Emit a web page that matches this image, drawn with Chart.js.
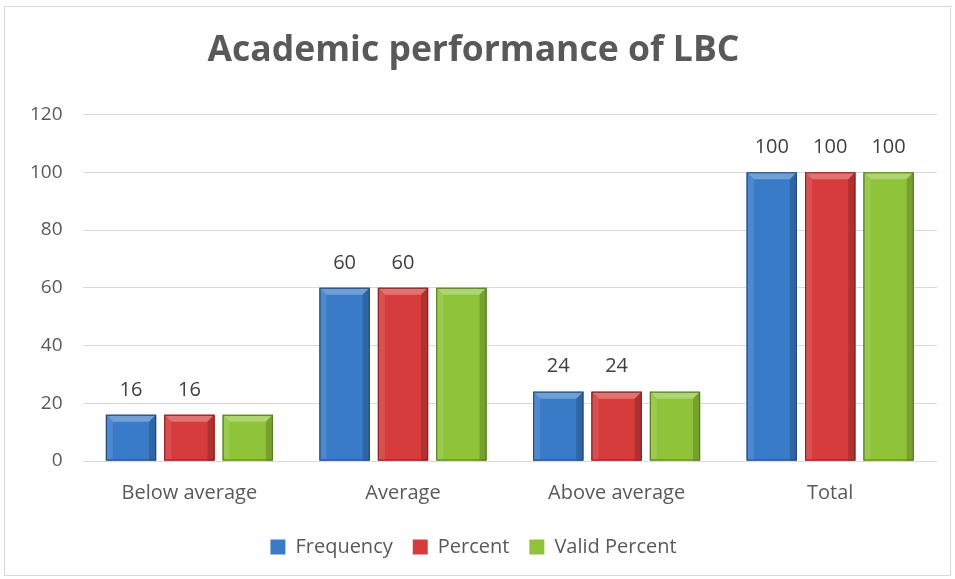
<!DOCTYPE html>
<html>
<head>
<meta charset="utf-8">
<script src="https://cdn.jsdelivr.net/npm/chart.js@4.4.0/dist/chart.umd.min.js"></script>
<style>
  body { margin: 0; background: #fff; }
  #frame { position: absolute; left: 4px; top: 6px; width: 947px; height: 570px; border: 1px solid #d9d9d9; box-sizing: border-box; }
  #wrap { position: absolute; left: 0; top: 0; width: 955px; height: 579px; }
</style>
</head>
<body>
<div id="frame"></div>
<div id="wrap"><canvas id="chartCanvas" width="955" height="579"></canvas></div>
<script>
const categories = ['Below average', 'Average', 'Above average', 'Total'];
const frequency = [16, 60, 24, 100];
const percent = [16, 60, 24, 100];
const validPercent = [16, 60, 24, 100];
// which bars carry a value label in the original
const frequencyLabels = ['16', '60', '24', '100'];
const percentLabels = ['16', '60', '24', '100'];
const validLabels = ['', '', '', '100'];
const yTicks = [0, 20, 40, 60, 80, 100, 120];

const FONT = "'Open Sans', 'Noto Sans', sans-serif";

function shade(hex, amt) {
  let r = parseInt(hex.slice(1, 3), 16), g = parseInt(hex.slice(3, 5), 16), b = parseInt(hex.slice(5, 7), 16);
  const f = c => Math.max(0, Math.min(255, Math.round(amt < 0 ? c * (1 + amt) : c + (255 - c) * amt)));
  return 'rgb(' + f(r) + ',' + f(g) + ',' + f(b) + ')';
}

// draws the bevelled look on top of the plain bars
const bevelPlugin = {
  id: 'bevel',
  afterDatasetsDraw(chart) {
    const ctx = chart.ctx;
    chart.data.datasets.forEach((ds, i) => {
      const meta = chart.getDatasetMeta(i);
      const base = ds.baseHex;
      meta.data.forEach(bar => {
        const { x, y, base: bottom, width } = bar.getProps(['x', 'y', 'base', 'width'], true);
        const l = x - width / 2, r = x + width / 2, b = 7;
        ctx.save();
        const g = ctx.createLinearGradient(l, 0, r, 0);
        g.addColorStop(0, shade(base, -0.25));
        g.addColorStop(0.12, base);
        g.addColorStop(0.88, base);
        g.addColorStop(1, shade(base, -0.3));
        ctx.fillStyle = g;
        ctx.fillRect(l, y, width, bottom - y);
        // top bevel
        ctx.fillStyle = shade(base, 0.28);
        ctx.beginPath();
        ctx.moveTo(l, y); ctx.lineTo(r, y); ctx.lineTo(r - b, y + b); ctx.lineTo(l + b, y + b); ctx.closePath();
        ctx.fill();
        // side bevels
        ctx.fillStyle = shade(base, 0.1);
        ctx.beginPath();
        ctx.moveTo(l, y); ctx.lineTo(l + b, y + b); ctx.lineTo(l + b, bottom); ctx.lineTo(l, bottom); ctx.closePath();
        ctx.fill();
        ctx.fillStyle = shade(base, -0.18);
        ctx.beginPath();
        ctx.moveTo(r, y); ctx.lineTo(r - b, y + b); ctx.lineTo(r - b, bottom); ctx.lineTo(r, bottom); ctx.closePath();
        ctx.fill();
        ctx.strokeStyle = shade(base, -0.4);
        ctx.lineWidth = 1;
        ctx.strokeRect(l + 0.5, y + 0.5, width - 1, bottom - y - 1);
        ctx.restore();
      });
    });
  }
};

const valueLabelPlugin = {
  id: 'valueLabels',
  afterDatasetsDraw(chart) {
    const ctx = chart.ctx;
    ctx.save();
    ctx.font = '20px ' + FONT;
    ctx.fillStyle = '#404040';
    ctx.textAlign = 'center';
    ctx.textBaseline = 'bottom';
    chart.data.datasets.forEach((ds, i) => {
      const meta = chart.getDatasetMeta(i);
      meta.data.forEach((bar, j) => {
        const txt = ds.valueLabels[j];
        if (txt) ctx.fillText(txt, bar.x, bar.y - 15);
      });
    });
    ctx.restore();
  }
};

const ctx = document.getElementById('chartCanvas').getContext('2d');
new Chart(ctx, {
  type: 'bar',
  data: {
    labels: categories,
    datasets: [
      { label: 'Frequency', data: frequency, backgroundColor: '#3a7bc8', baseHex: '#3a7bc8', valueLabels: frequencyLabels },
      { label: 'Percent', data: percent, backgroundColor: '#d63c3c', baseHex: '#d63c3c', valueLabels: percentLabels },
      { label: 'Valid Percent', data: validPercent, backgroundColor: '#8fc43a', baseHex: '#8fc43a', valueLabels: validLabels }
    ]
  },
  options: {
    responsive: false,
    animation: false,
    layout: { padding: { left: 10, right: 18, top: 12, bottom: 12 } },
    datasets: { bar: { categoryPercentage: 0.82, barPercentage: 0.86 } },
    plugins: {
      title: {
        display: true,
        text: 'Academic performance of LBC',
        color: '#595959',
        font: { family: FONT, size: 35.5, weight: 'bold' },
        padding: { top: 18, bottom: 42 }
      },
      legend: {
        position: 'bottom',
        labels: {
          color: '#595959',
          font: { family: FONT, size: 20 },
          boxWidth: 15, boxHeight: 15, padding: 20
        }
      },
      tooltip: { enabled: false }
    },
    scales: {
      x: {
        grid: { display: false },
        border: { display: false },
        ticks: { color: '#595959', font: { family: FONT, size: 20 }, padding: 12 }
      },
      y: {
        min: 0, max: 120,
        afterBuildTicks: axis => { axis.ticks = yTicks.map(v => ({ value: v })); },
        grid: { color: '#d9d9d9', tickLength: 0, drawTicks: false },
        border: { display: false },
        ticks: { color: '#595959', font: { family: FONT, size: 19 }, padding: 20 }
      }
    }
  },
  plugins: [bevelPlugin, valueLabelPlugin]
});
</script>
</body>
</html>
